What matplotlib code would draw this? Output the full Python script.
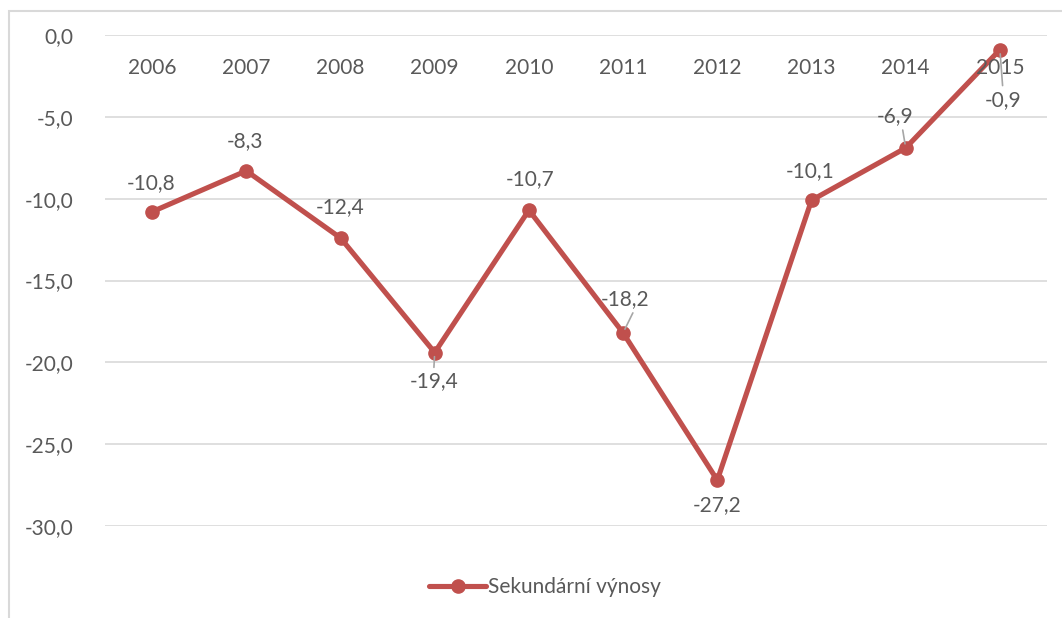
import matplotlib

matplotlib.use("Agg")
import matplotlib.pyplot as plt
from matplotlib.patches import Rectangle
from matplotlib.ticker import FuncFormatter, MultipleLocator

years = ["2006", "2007", "2008", "2009", "2010", "2011", "2012", "2013", "2014", "2015"]
values = [-10.8, -8.3, -12.4, -19.4, -10.7, -18.2, -27.2, -10.1, -6.9, -0.9]
series_name = "Sekundární výnosy"

# label offsets in pixels (dx, dy) and whether a leader line is drawn
label_offsets = [(-1, 29), (-1, 30), (0, 31), (-1, -29), (1, 31),
                 (2, 34), (0, -25), (-1, 29), (-11, 32), (3, -50)]
leaders = [False, False, False, True, False, True, False, False, True, True]

LINE = "#C0504D"
TEXT = "#595959"
GRID = "#D9D9D9"
FS = 15


def comma(v, _pos=None):
    return f"{v:.1f}".replace(".", ",")


def main():
    plt.rcParams.update({"font.family": ["Lato", "DejaVu Sans"], "font.size": FS})

    fig = plt.figure(figsize=(10.62, 6.18), dpi=100)
    W, H = 1062, 618
    ax = fig.add_axes([105 / W, (H - 526) / H, (1047 - 105) / W, (526 - 35) / H])

    # chart frame
    fig.patches.append(Rectangle((9 / W, -0.1), 1.2, 1 - 11 / H + 0.1,
                                 transform=fig.transFigure, fill=False,
                                 edgecolor=GRID, linewidth=1.5))

    x = list(range(len(years)))
    ax.plot(x, values, color=LINE, linewidth=3.7, marker="o", markersize=9.5,
            label=series_name, zorder=3, solid_capstyle="round")

    ax.set_xlim(-0.5, len(years) - 0.5)
    ax.set_ylim(-30, 0)
    ax.yaxis.set_major_locator(MultipleLocator(5))
    ax.yaxis.set_major_formatter(FuncFormatter(comma))
    ax.grid(axis="y", color=GRID, linewidth=1.2)
    ax.set_axisbelow(True)
    for s in ax.spines.values():
        s.set_visible(False)
    ax.set_xticks([])
    ax.tick_params(axis="y", length=0, pad=23, labelcolor=TEXT, labelsize=FS)

    # category labels below the zero line
    for xi, yr in zip(x, years):
        ax.annotate(yr, xy=(xi, 0), xytext=(0, -33), textcoords="offset pixels",
                    ha="center", va="center", color=TEXT, fontsize=FS)

    # data labels
    for xi, v, (dx, dy), lead in zip(x, values, label_offsets, leaders):
        props = None
        if lead:
            rel = (0.5, 1.0) if dy < 0 else (0.7, 0.0)
            props = dict(arrowstyle="-", color="#A6A6A6", lw=1.2,
                         shrinkA=1, shrinkB=3, relpos=rel)
        ax.annotate(comma(v), xy=(xi, v), xytext=(dx, dy), textcoords="offset pixels",
                    ha="center", va="center", color=TEXT, fontsize=FS,
                    arrowprops=props, zorder=4)

    fig.legend(loc="center", bbox_to_anchor=(545 / W, 1 - 587 / H), frameon=False,
               handlelength=2.7, handletextpad=0.1, fontsize=FS, labelcolor=TEXT)

    fig.savefig("out.png", dpi=100)
    plt.close(fig)


if __name__ == "__main__":
    main()
